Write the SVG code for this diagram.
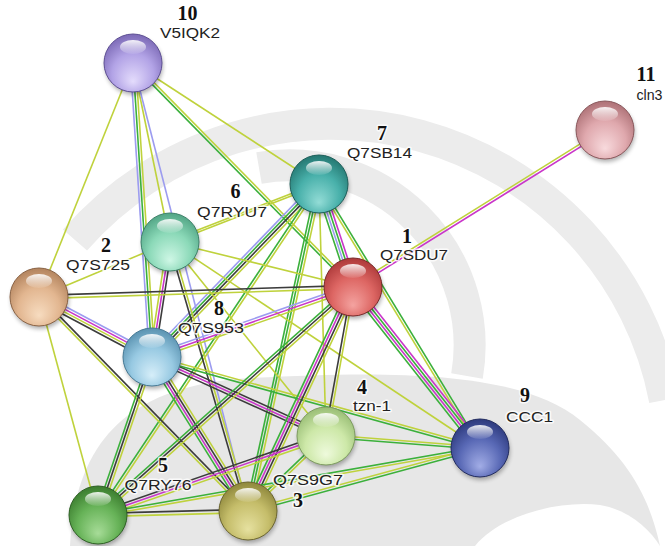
<svg xmlns="http://www.w3.org/2000/svg" width="665" height="546" viewBox="0 0 665 546">
<style>
.y{stroke:#bfd23c}
.g{stroke:#3bb03b}
.m{stroke:#c936c9}
.k{stroke:#3c3c3c}
.l{stroke:#9c9cf0}
.num{font-family:"Liberation Serif","Times New Roman",serif;font-weight:bold;font-size:20px;fill:#111;text-anchor:middle}
.lbl{font-family:"Liberation Sans",Arial,sans-serif;font-size:15px;fill:#222;text-anchor:middle}
.num,.lbl{stroke:#fff;stroke-width:3;stroke-linejoin:round;paint-order:stroke;stroke-opacity:.8}
.sh{fill:#000;opacity:.3;filter:url(#blur)}
.hl{fill:url(#hl)}
</style>
<defs>
<filter id="blur" x="-50%" y="-50%" width="200%" height="200%"><feGaussianBlur stdDeviation="2.2"/></filter>
<linearGradient id="hl" x1="0" y1="0" x2="0" y2="1">
<stop offset="0" stop-color="#fff" stop-opacity=".9"/>
<stop offset="1" stop-color="#fff" stop-opacity=".08"/>
</linearGradient>
<radialGradient id="c1" cx="50%" cy="62%" r="60%" fx="50%" fy="82%"><stop offset="0" stop-color="#f4a3a0"/><stop offset=".6" stop-color="#dd6663"/><stop offset="1" stop-color="#b03c3c"/></radialGradient>
<radialGradient id="c2" cx="50%" cy="62%" r="60%" fx="50%" fy="82%"><stop offset="0" stop-color="#f7dcc0"/><stop offset=".6" stop-color="#e2b690"/><stop offset="1" stop-color="#b58660"/></radialGradient>
<radialGradient id="c3" cx="50%" cy="62%" r="60%" fx="50%" fy="82%"><stop offset="0" stop-color="#e6e1a0"/><stop offset=".6" stop-color="#c5bd6a"/><stop offset="1" stop-color="#918a3e"/></radialGradient>
<radialGradient id="c4" cx="50%" cy="62%" r="60%" fx="50%" fy="82%"><stop offset="0" stop-color="#eefadc"/><stop offset=".6" stop-color="#cde8a8"/><stop offset="1" stop-color="#9cc078"/></radialGradient>
<radialGradient id="c5" cx="50%" cy="62%" r="60%" fx="50%" fy="82%"><stop offset="0" stop-color="#a7dc98"/><stop offset=".6" stop-color="#66b257"/><stop offset="1" stop-color="#3d7f30"/></radialGradient>
<radialGradient id="c6" cx="50%" cy="62%" r="60%" fx="50%" fy="82%"><stop offset="0" stop-color="#cff7e6"/><stop offset=".6" stop-color="#8bd9b8"/><stop offset="1" stop-color="#55a888"/></radialGradient>
<radialGradient id="c7" cx="50%" cy="62%" r="60%" fx="50%" fy="82%"><stop offset="0" stop-color="#93dcd6"/><stop offset=".6" stop-color="#48b0aa"/><stop offset="1" stop-color="#267a74"/></radialGradient>
<radialGradient id="c8" cx="50%" cy="62%" r="60%" fx="50%" fy="82%"><stop offset="0" stop-color="#d6eef9"/><stop offset=".6" stop-color="#97c9e2"/><stop offset="1" stop-color="#5d95b3"/></radialGradient>
<radialGradient id="c9" cx="50%" cy="62%" r="60%" fx="50%" fy="82%"><stop offset="0" stop-color="#a2ade6"/><stop offset=".6" stop-color="#5868b5"/><stop offset="1" stop-color="#2f3c80"/></radialGradient>
<radialGradient id="c10" cx="50%" cy="62%" r="60%" fx="50%" fy="82%"><stop offset="0" stop-color="#e4dcfc"/><stop offset=".6" stop-color="#b2a3e6"/><stop offset="1" stop-color="#7e6cb8"/></radialGradient>
<radialGradient id="c11" cx="50%" cy="62%" r="60%" fx="50%" fy="82%"><stop offset="0" stop-color="#f8dadd"/><stop offset=".6" stop-color="#dfa8ad"/><stop offset="1" stop-color="#b07479"/></radialGradient>
<!-- centre-to-centre edge geometry; parallel evidence lines are translated copies -->
<line id="a10-2" x1="133" y1="63" x2="39" y2="297"/>
<line id="a10-8" x1="133" y1="63" x2="152" y2="357"/>
<line id="a10-6" x1="133" y1="63" x2="170" y2="242"/>
<line id="a10-3" x1="133" y1="63" x2="248" y2="511"/>
<line id="a10-1" x1="133" y1="63" x2="353" y2="287"/>
<line id="a10-7" x1="133" y1="63" x2="319" y2="184"/>
<line id="a11-1" x1="605" y1="130" x2="353" y2="287"/>
<line id="a7-6" x1="319" y1="184" x2="170" y2="242"/>
<line id="a7-8" x1="319" y1="184" x2="152" y2="357"/>
<line id="a7-1" x1="319" y1="184" x2="353" y2="287"/>
<line id="a7-9" x1="319" y1="184" x2="480" y2="448"/>
<line id="a7-3" x1="319" y1="184" x2="248" y2="511"/>
<line id="a7-5" x1="319" y1="184" x2="98" y2="515"/>
<line id="a7-4" x1="319" y1="184" x2="326" y2="436"/>
<line id="a6-2" x1="170" y1="242" x2="39" y2="297"/>
<line id="a6-8" x1="170" y1="242" x2="152" y2="357"/>
<line id="a6-1" x1="170" y1="242" x2="353" y2="287"/>
<line id="a6-3" x1="170" y1="242" x2="248" y2="511"/>
<line id="a6-4" x1="170" y1="242" x2="326" y2="436"/>
<line id="a6-9" x1="170" y1="242" x2="480" y2="448"/>
<line id="a2-1" x1="39" y1="297" x2="353" y2="287"/>
<line id="a2-8" x1="39" y1="297" x2="152" y2="357"/>
<line id="a2-3" x1="39" y1="297" x2="248" y2="511"/>
<line id="a2-5" x1="39" y1="297" x2="98" y2="515"/>
<line id="a8-1" x1="152" y1="357" x2="353" y2="287"/>
<line id="a8-4" x1="152" y1="357" x2="326" y2="436"/>
<line id="a8-9" x1="152" y1="357" x2="480" y2="448"/>
<line id="a8-5" x1="152" y1="357" x2="98" y2="515"/>
<line id="a8-3" x1="152" y1="357" x2="248" y2="511"/>
<line id="a1-5" x1="353" y1="287" x2="98" y2="515"/>
<line id="a1-3" x1="353" y1="287" x2="248" y2="511"/>
<line id="a1-4" x1="353" y1="287" x2="326" y2="436"/>
<line id="a1-9" x1="353" y1="287" x2="480" y2="448"/>
<line id="a4-5" x1="326" y1="436" x2="98" y2="515"/>
<line id="a4-3" x1="326" y1="436" x2="248" y2="511"/>
<line id="a4-9" x1="326" y1="436" x2="480" y2="448"/>
<line id="a5-3" x1="98" y1="515" x2="248" y2="511"/>
<line id="a5-9" x1="98" y1="515" x2="480" y2="448"/>
<line id="a3-9" x1="248" y1="511" x2="480" y2="448"/>
</defs>

<rect width="665" height="546" fill="#fff"/>
<!-- faint emblem in the background -->
<g id="emblem">
<path d="M75 240 A340 340 0 0 1 665 400" fill="none" stroke="#ececec" stroke-width="32"/>
<path d="M259 168 A180 180 0 0 1 467 376" fill="none" stroke="#ebebeb" stroke-width="32"/>
<path d="M70 546 C75 440 130 385 250 378 C400 370 520 372 580 420 C630 460 650 500 660 546 Z" fill="#e7e7e7"/>
<path d="M475 546 C500 515 560 500 600 505 C630 510 650 530 660 546 Z" fill="#fff"/>
</g>

<g id="links" fill="none" stroke-width="1.6">
<use href="#a10-2" class="y"/>
<use href="#a10-8" class="l" transform="translate(-2.6 0.17)"/>
<use href="#a10-8" class="g"/>
<use href="#a10-8" class="y" transform="translate(2.6 -0.17)"/>
<use href="#a10-6" class="y"/>
<use href="#a10-3" class="l"/>
<use href="#a10-1" class="g" transform="translate(-0.93 0.91)"/>
<use href="#a10-1" class="y" transform="translate(0.93 -0.91)"/>
<use href="#a10-7" class="y"/>
<use href="#a11-1" class="y" transform="translate(-0.69 -1.1)"/>
<use href="#a11-1" class="m" transform="translate(0.69 1.1)"/>
<use href="#a7-6" class="y" transform="translate(-0.4 -1)"/>
<use href="#a7-6" class="y" transform="translate(0.4 1)"/>
<use href="#a7-8" class="l" transform="translate(-2.8 -2.71)"/>
<use href="#a7-8" class="g" transform="translate(-0.93 -0.9)"/>
<use href="#a7-8" class="k" transform="translate(0.93 0.9)"/>
<use href="#a7-8" class="y" transform="translate(2.8 2.71)"/>
<use href="#a7-1" class="g" transform="translate(-3.7 1.22)"/>
<use href="#a7-1" class="l" transform="translate(-1.23 0.41)"/>
<use href="#a7-1" class="g" transform="translate(1.23 -0.41)"/>
<use href="#a7-1" class="m" transform="translate(3.7 -1.22)"/>
<use href="#a7-9" class="y" transform="translate(-1.11 0.68)"/>
<use href="#a7-9" class="g" transform="translate(1.11 -0.68)"/>
<use href="#a7-3" class="g" transform="translate(-2.54 -0.55)"/>
<use href="#a7-3" class="g"/>
<use href="#a7-3" class="y" transform="translate(2.54 0.55)"/>
<use href="#a7-5" class="g" transform="translate(-1.08 -0.73)"/>
<use href="#a7-5" class="y" transform="translate(1.08 0.73)"/>
<use href="#a7-4" class="y"/>
<use href="#a6-2" class="y"/>
<use href="#a6-8" class="y" transform="translate(-2.57 -0.4)"/>
<use href="#a6-8" class="m"/>
<use href="#a6-8" class="k" transform="translate(2.57 0.4)"/>
<use href="#a6-1" class="y"/>
<use href="#a6-3" class="k" transform="translate(-1.25 0.36)"/>
<use href="#a6-3" class="y" transform="translate(1.25 -0.36)"/>
<use href="#a6-4" class="y"/>
<use href="#a6-9" class="y"/>
<use href="#a2-1" class="k" transform="translate(0 -1.6)"/>
<use href="#a2-1" class="y" transform="translate(0 1.6)"/>
<use href="#a2-8" class="l" transform="translate(1.85 -3.43)"/>
<use href="#a2-8" class="m" transform="translate(0.62 -1.14)"/>
<use href="#a2-8" class="y" transform="translate(-0.62 1.14)"/>
<use href="#a2-8" class="k" transform="translate(-1.85 3.43)"/>
<use href="#a2-3" class="k" transform="translate(0.93 -0.91)"/>
<use href="#a2-3" class="y" transform="translate(-0.93 0.91)"/>
<use href="#a2-5" class="y"/>
<use href="#a8-1" class="l" transform="translate(-0.86 -2.46)"/>
<use href="#a8-1" class="m"/>
<use href="#a8-1" class="y" transform="translate(0.86 2.46)"/>
<use href="#a8-4" class="k" transform="translate(1.07 -2.37)"/>
<use href="#a8-4" class="m"/>
<use href="#a8-4" class="k" transform="translate(-1.07 2.37)"/>
<use href="#a8-9" class="y" transform="translate(0.34 -1.25)"/>
<use href="#a8-9" class="g" transform="translate(-0.34 1.25)"/>
<use href="#a8-5" class="g" transform="translate(-2.46 -0.85)"/>
<use href="#a8-5" class="k"/>
<use href="#a8-5" class="y" transform="translate(2.46 0.85)"/>
<use href="#a8-3" class="g" transform="translate(-3.3 2.08)"/>
<use href="#a8-3" class="m" transform="translate(-1.1 0.69)"/>
<use href="#a8-3" class="k" transform="translate(1.1 -0.69)"/>
<use href="#a8-3" class="y" transform="translate(3.3 -2.08)"/>
<use href="#a1-5" class="g" transform="translate(-1.72 -1.95)"/>
<use href="#a1-5" class="k"/>
<use href="#a1-5" class="y" transform="translate(1.72 1.95)"/>
<use href="#a1-3" class="g" transform="translate(-3.53 -1.67)"/>
<use href="#a1-3" class="m" transform="translate(-1.18 -0.56)"/>
<use href="#a1-3" class="k" transform="translate(1.18 0.56)"/>
<use href="#a1-3" class="y" transform="translate(3.53 1.67)"/>
<use href="#a1-4" class="k" transform="translate(-1.28 -0.23)"/>
<use href="#a1-4" class="y" transform="translate(1.28 0.23)"/>
<use href="#a1-9" class="g" transform="translate(-3.05 2.43)"/>
<use href="#a1-9" class="m" transform="translate(-1.02 0.81)"/>
<use href="#a1-9" class="g" transform="translate(1.02 -0.81)"/>
<use href="#a1-9" class="m" transform="translate(3.05 -2.43)"/>
<use href="#a4-5" class="k" transform="translate(-0.83 -2.46)"/>
<use href="#a4-5" class="m"/>
<use href="#a4-5" class="y" transform="translate(0.83 2.46)"/>
<use href="#a4-3" class="g" transform="translate(-0.89 -0.95)"/>
<use href="#a4-3" class="y" transform="translate(0.89 0.95)"/>
<use href="#a4-9" class="y" transform="translate(0.09 -1.3)"/>
<use href="#a4-9" class="g" transform="translate(-0.09 1.3)"/>
<use href="#a5-3" class="k" transform="translate(0 -1.6)"/>
<use href="#a5-3" class="y" transform="translate(0 1.6)"/>
<use href="#a5-9" class="g" transform="translate(-0.22 -1.28)"/>
<use href="#a5-9" class="y" transform="translate(0.22 1.28)"/>
<use href="#a3-9" class="y" transform="translate(-0.34 -1.26)"/>
<use href="#a3-9" class="g" transform="translate(0.34 1.26)"/>
</g>

<g id="node1">
<circle class="sh" cx="354" cy="290" r="29"/>
<circle cx="353" cy="287" r="29" fill="url(#c1)" stroke="#7a2a2a"/>
<ellipse class="hl" cx="353" cy="271" rx="13" ry="7"/>
<text class="num" x="407" y="243">1</text>
<text class="lbl" x="414" y="260" textLength="68" lengthAdjust="spacingAndGlyphs">Q7SDU7</text>
</g>
<g id="node2">
<circle class="sh" cx="40" cy="300" r="29"/>
<circle cx="39" cy="297" r="29" fill="url(#c2)" stroke="#8a6345"/>
<ellipse class="hl" cx="39" cy="281" rx="13" ry="7"/>
<text class="num" x="106" y="252">2</text>
<text class="lbl" x="98" y="270" textLength="64" lengthAdjust="spacingAndGlyphs">Q7S725</text>
</g>
<g id="node3">
<circle class="sh" cx="249" cy="514" r="29"/>
<circle cx="248" cy="511" r="29" fill="url(#c3)" stroke="#6c6630"/>
<ellipse class="hl" cx="248" cy="495" rx="13" ry="7"/>
<text class="lbl" x="308" y="485" textLength="70" lengthAdjust="spacingAndGlyphs">Q7S9G7</text>
<text class="num" x="298" y="507">3</text>
</g>
<g id="node4">
<circle class="sh" cx="327" cy="439" r="29"/>
<circle cx="326" cy="436" r="29" fill="url(#c4)" stroke="#7e9c60"/>
<ellipse class="hl" cx="326" cy="420" rx="13" ry="7"/>
<text class="num" x="362" y="394">4</text>
<text class="lbl" x="372" y="411" textLength="38" lengthAdjust="spacingAndGlyphs">tzn-1</text>
</g>
<g id="node5">
<circle class="sh" cx="99" cy="518" r="29"/>
<circle cx="98" cy="515" r="29" fill="url(#c5)" stroke="#2f6125"/>
<ellipse class="hl" cx="98" cy="499" rx="13" ry="7"/>
<text class="num" x="163" y="472">5</text>
<text class="lbl" x="158" y="490" textLength="67" lengthAdjust="spacingAndGlyphs">Q7RY76</text>
</g>
<g id="node6">
<circle class="sh" cx="171" cy="245" r="29"/>
<circle cx="170" cy="242" r="29" fill="url(#c6)" stroke="#3e826a"/>
<ellipse class="hl" cx="170" cy="226" rx="13" ry="7"/>
<text class="num" x="235.5" y="198">6</text>
<text class="lbl" x="232" y="217" textLength="70" lengthAdjust="spacingAndGlyphs">Q7RYU7</text>
</g>
<g id="node7">
<circle class="sh" cx="320" cy="187" r="29"/>
<circle cx="319" cy="184" r="29" fill="url(#c7)" stroke="#1d5f5a"/>
<ellipse class="hl" cx="319" cy="168" rx="13" ry="7"/>
<text class="num" x="382" y="140">7</text>
<text class="lbl" x="379.5" y="158" textLength="65" lengthAdjust="spacingAndGlyphs">Q7SB14</text>
</g>
<g id="node8">
<circle class="sh" cx="153" cy="360" r="29"/>
<circle cx="152" cy="357" r="29" fill="url(#c8)" stroke="#467a95"/>
<ellipse class="hl" cx="152" cy="341" rx="13" ry="7"/>
<text class="num" x="219" y="315">8</text>
<text class="lbl" x="211" y="333" textLength="66" lengthAdjust="spacingAndGlyphs">Q7S953</text>
</g>
<g id="node9">
<circle class="sh" cx="481" cy="451" r="29"/>
<circle cx="480" cy="448" r="29" fill="url(#c9)" stroke="#222c60"/>
<ellipse class="hl" cx="480" cy="432" rx="13" ry="7"/>
<text class="num" x="525" y="402">9</text>
<text class="lbl" x="529.5" y="422" textLength="47" lengthAdjust="spacingAndGlyphs">CCC1</text>
</g>
<g id="node10">
<circle class="sh" cx="134" cy="66" r="29"/>
<circle cx="133" cy="63" r="29" fill="url(#c10)" stroke="#5e5094"/>
<ellipse class="hl" cx="133" cy="47" rx="13" ry="7"/>
<text class="num" x="187.5" y="20">10</text>
<text class="lbl" x="190" y="38" textLength="60" lengthAdjust="spacingAndGlyphs">V5IQK2</text>
</g>
<g id="node11">
<circle class="sh" cx="606" cy="133" r="29"/>
<circle cx="605" cy="130" r="29" fill="url(#c11)" stroke="#8a585c"/>
<ellipse class="hl" cx="605" cy="114" rx="13" ry="7"/>
<text class="num" x="646" y="81">11</text>
<text class="lbl" x="649.5" y="100" textLength="26" lengthAdjust="spacingAndGlyphs">cln3</text>
</g>
</svg>
